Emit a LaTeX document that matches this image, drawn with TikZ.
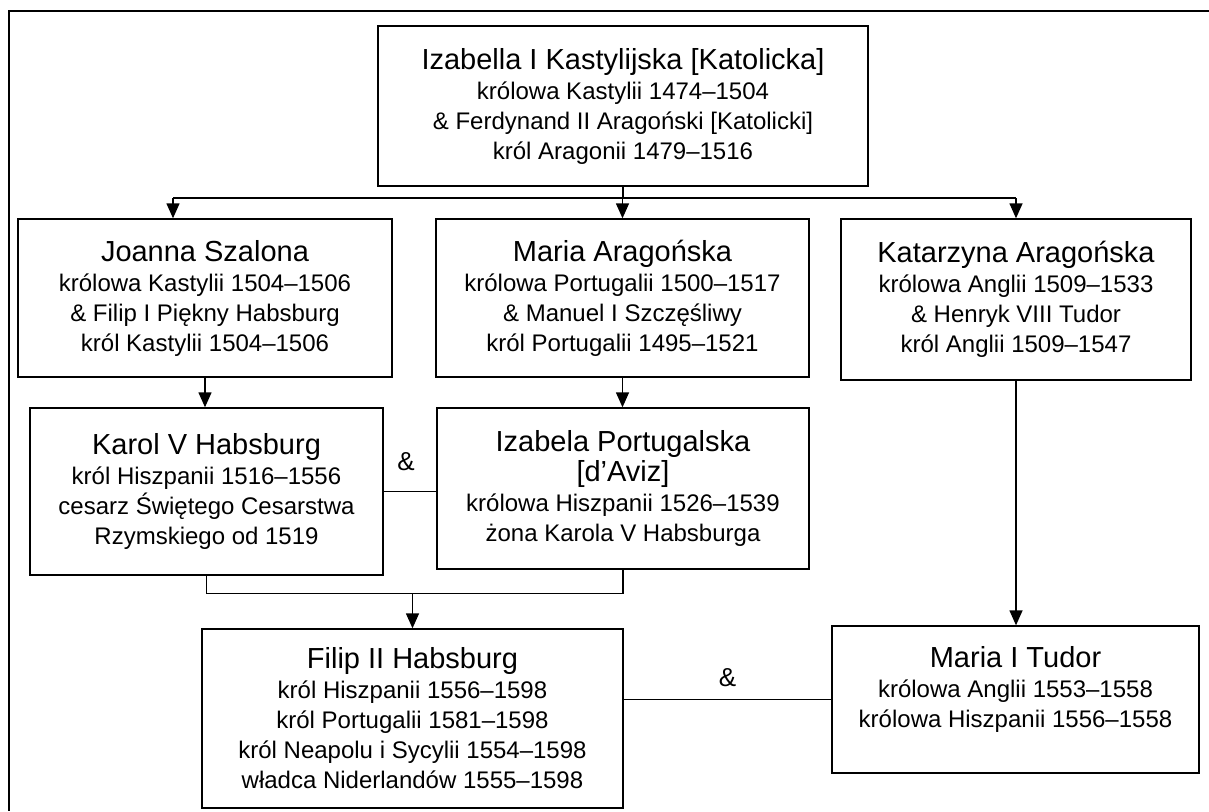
\documentclass[tikz,border=0pt]{standalone}
\usepackage{fontspec}
\setmainfont{Liberation Sans}
\usetikzlibrary{arrows.meta,calc}
\newcommand{\imie}[1]{{\fontsize{14.5}{15}\selectfont #1}}

\begin{document}
\begin{tikzpicture}[x=0.5pt,y=-0.5pt,
        osoba/.style={draw,line width=0.7pt,align=center,inner sep=0pt,font=\fontsize{12}{15}\selectfont},
        linia/.style={line width=0.7pt},
        strzalka/.style={line width=0.7pt,-{Triangle[width=6.5pt,length=7.5pt]}},
        oraz/.style={font=\fontsize{13}{15}\selectfont,inner sep=1pt}]
    \useasboundingbox (0,0) rectangle (1209,811);
    \draw[line width=1.1pt] (1209,11) -- (9,11) -- (9,811);

    \node[osoba,minimum width=245pt,minimum height=80pt] (izabella) at (623,106)
        {\imie{Izabella I Kastylijska [Katolicka]}\\królowa Kastylii 1474–1504\\\& Ferdynand II Aragoński [Katolicki]\\król Aragonii 1479–1516};
    \node[osoba,minimum width=187pt,minimum height=79pt] (joanna) at (205,298)
        {\imie{Joanna Szalona}\\królowa Kastylii 1504–1506\\\& Filip I Piękny Habsburg\\król Kastylii 1504–1506};
    \node[osoba,minimum width=186.5pt,minimum height=79pt] (mariaA) at (622.5,298)
        {\imie{Maria Aragońska}\\królowa Portugalii 1500–1517\\\& Manuel I Szczęśliwy\\król Portugalii 1495–1521};
    \node[osoba,minimum width=175pt,minimum height=80.5pt] (katarzyna) at (1016,299.5)
        {\imie{Katarzyna Aragońska}\\królowa Anglii 1509–1533\\\& Henryk VIII Tudor\\król Anglii 1509–1547};
    \node[osoba,minimum width=176.5pt,minimum height=83.5pt] (karol) at (206.5,491.5)
        {\imie{Karol V Habsburg}\\król Hiszpanii 1516–1556\\cesarz Świętego Cesarstwa\\Rzymskiego od 1519};
    \node[osoba,minimum width=186pt,minimum height=80.5pt] (izabela) at (623,488.5)
        {\imie{Izabela Portugalska}\\\imie{[d’Aviz]}\\królowa Hiszpanii 1526–1539\\żona Karola V Habsburga};
    \node[osoba,minimum width=210.5pt,minimum height=89.5pt] (filip) at (412.5,718.5)
        {\imie{Filip II Habsburg}\\król Hiszpanii 1556–1598\\król Portugalii 1581–1598\\król Neapolu i Sycylii 1554–1598\\władca Niderlandów 1555–1598};
    \node[osoba,minimum width=183.5pt,minimum height=73.5pt] (mariaT) at (1015.5,699.5)
        {\imie{Maria I Tudor}\\królowa Anglii 1553–1558\\królowa Hiszpanii 1556–1558\rule[-12.5pt]{0pt}{0pt}};

    \coordinate (szynaL) at (173,198);
    \coordinate (szynaP) at (katarzyna.north |- szynaL);
    \draw[linia] (izabella.south) -- (izabella.south |- szynaL);
    \draw[linia] (szynaL) -- (szynaP);
    \draw[strzalka] (szynaL) -- (szynaL |- joanna.north);
    \draw[strzalka] (mariaA.north |- szynaL) -- (mariaA.north);
    \draw[strzalka] (szynaP) -- (katarzyna.north);

    \draw[strzalka] (joanna.south) -- (joanna.south |- karol.north);
    \draw[strzalka] (mariaA.south) -- (mariaA.south |- izabela.north);
    \draw[strzalka] (katarzyna.south) -- (katarzyna.south |- mariaT.north);

    \draw[linia] (karol.east) -- (karol.east -| izabela.west) node[oraz,midway,above=9pt,xshift=-2pt] {\&};
    \coordinate (para) at ($(karol.south)+(0,18)$);
    \draw[linia] (karol.south) -- (para) -| (izabela.south);
    \draw[strzalka] (para -| filip.north) -- (filip.north);
    \draw[linia] (mariaT.west -| filip.east) -- (mariaT.west) node[oraz,midway,above=5pt] {\&};
\end{tikzpicture}
\end{document}
